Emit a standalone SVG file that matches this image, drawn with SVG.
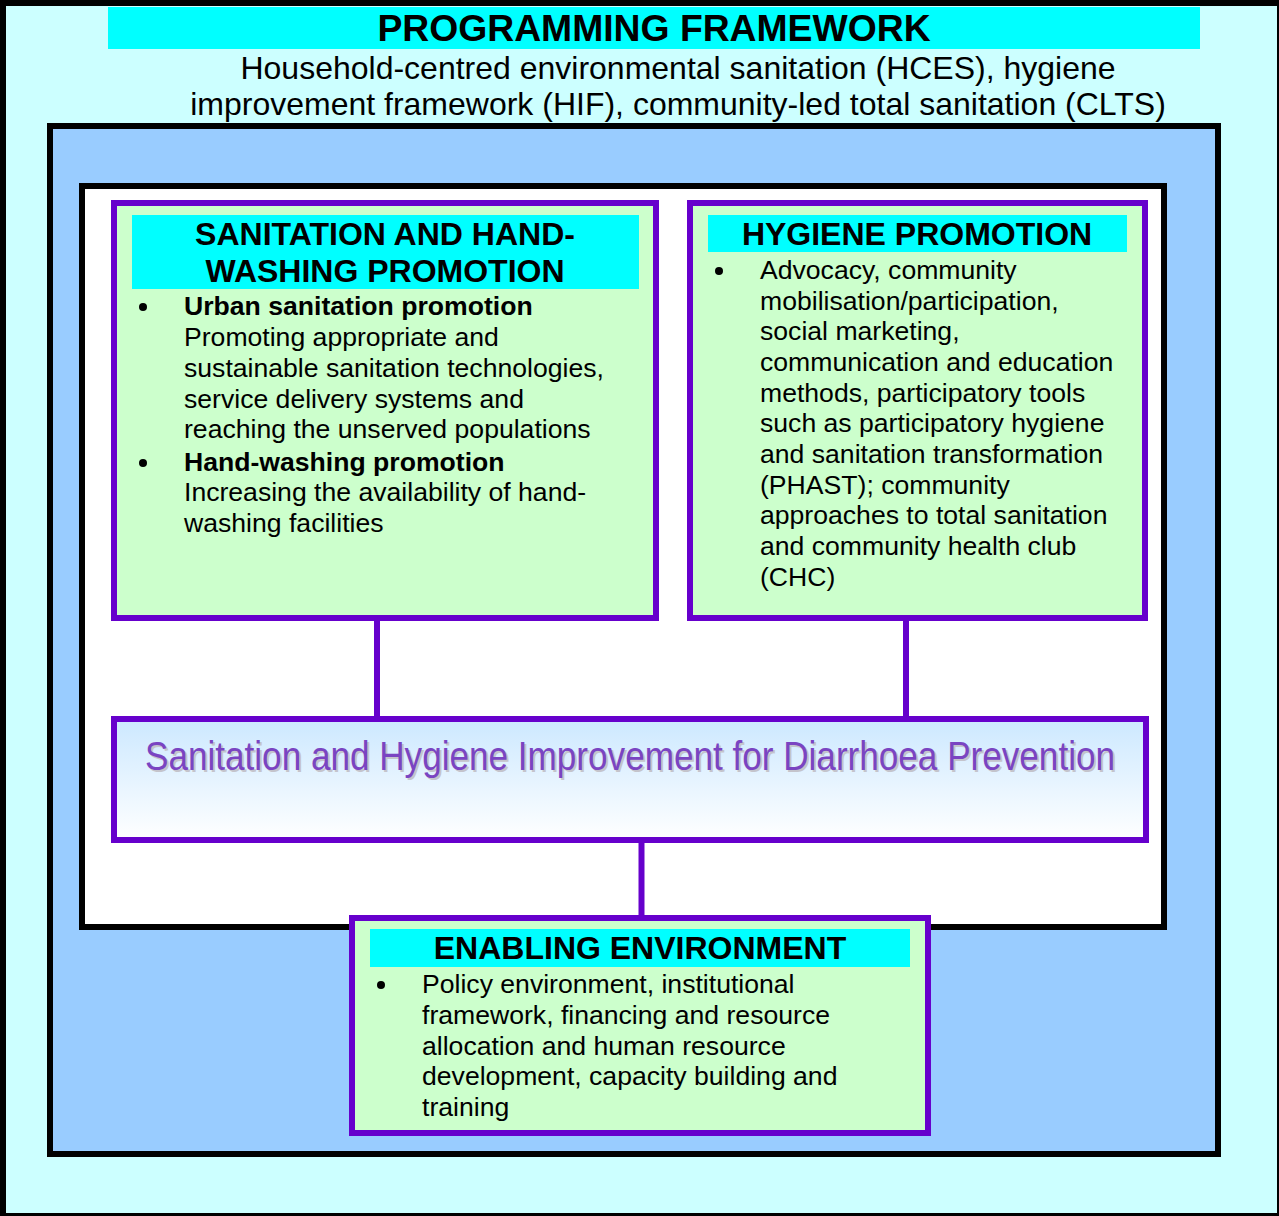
<svg xmlns="http://www.w3.org/2000/svg" width="1279" height="1216" viewBox="0 0 1279 1216">
<defs>
<linearGradient id="bannerGrad" x1="0" y1="0" x2="0" y2="1">
<stop offset="0" stop-color="#CCE8FF"/>
<stop offset="1" stop-color="#FFFFFF"/>
</linearGradient>
<style>
.frame{stroke:#000;stroke-width:6}
.box{fill:#CCFFCC;stroke:#6600CC;stroke-width:6}
.hdr{fill:#00FFFF}
.t{font-family:"Liberation Sans",Arial,sans-serif;fill:#000}
.h{font-family:"Liberation Sans",Arial,sans-serif;font-weight:bold;font-size:32px;fill:#000;text-anchor:middle}
.b{font-size:26.6px}
.bb{font-size:26.6px;font-weight:bold}
.sub{font-size:32px;text-anchor:middle}
.conn{stroke:#6600CC;stroke-width:6;fill:none}
.ban{font-family:"Liberation Sans Narrow","Arial Narrow","Liberation Sans",sans-serif;font-stretch:condensed;font-size:40px}
</style>
</defs>
<rect x="0" y="0" width="1279" height="1216" fill="#000"/>
<rect x="6" y="6" width="1271" height="1207" fill="#CCFFFF"/>
<rect x="108" y="7" width="1092" height="42" class="hdr"/>
<text class="h" x="654" y="41" style="font-size:37.3px">PROGRAMMING FRAMEWORK</text>
<text class="t sub" x="678" y="79">Household-centred environmental sanitation (HCES), hygiene</text>
<text class="t sub" x="678" y="115">improvement framework (HIF), community-led total sanitation (CLTS)</text>
<rect x="50" y="126" width="1168" height="1028" fill="#99CCFF" class="frame"/>
<rect x="82" y="186" width="1082" height="741" fill="#FFFFFF" class="frame"/>
<g id="connectors">
<line class="conn" x1="377" y1="618" x2="377" y2="719"/>
<line class="conn" x1="906" y1="618" x2="906" y2="719"/>
<line class="conn" x1="641.5" y1="840" x2="641.5" y2="918"/>
</g>
<g id="sanitation-handwashing">
<rect class="box" x="114" y="203" width="542" height="415"/>
<rect class="hdr" x="132" y="215" width="507" height="74"/>
<text class="h" x="385" y="245">SANITATION AND HAND-</text>
<text class="h" x="385" y="282">WASHING PROMOTION</text>
<circle cx="143" cy="307" r="4"/>
<text class="t bb" x="184" y="315">Urban sanitation promotion</text>
<text class="t b" x="184" y="346">Promoting appropriate and</text>
<text class="t b" x="184" y="377">sustainable sanitation technologies,</text>
<text class="t b" x="184" y="408">service delivery systems and</text>
<text class="t b" x="184" y="438">reaching the unserved populations</text>
<circle cx="143" cy="463" r="4"/>
<text class="t bb" x="184" y="471">Hand-washing promotion</text>
<text class="t b" x="184" y="501">Increasing the availability of hand-</text>
<text class="t b" x="184" y="532">washing facilities</text>
</g>
<g id="hygiene-promotion">
<rect class="box" x="690" y="203" width="455" height="415"/>
<rect class="hdr" x="708" y="215" width="419" height="37"/>
<text class="h" x="917" y="245">HYGIENE PROMOTION</text>
<circle cx="719" cy="271" r="4"/>
<text class="t b" x="760" y="279">Advocacy, community</text>
<text class="t b" x="760" y="310">mobilisation/participation,</text>
<text class="t b" x="760" y="340">social marketing,</text>
<text class="t b" x="760" y="371">communication and education</text>
<text class="t b" x="760" y="402">methods, participatory tools</text>
<text class="t b" x="760" y="432">such as participatory hygiene</text>
<text class="t b" x="760" y="463">and sanitation transformation</text>
<text class="t b" x="760" y="494">(PHAST); community</text>
<text class="t b" x="760" y="524">approaches to total sanitation</text>
<text class="t b" x="760" y="555">and community health club</text>
<text class="t b" x="760" y="586">(CHC)</text>
</g>
<g id="central-goal">
<rect x="114" y="719" width="1032" height="121" fill="url(#bannerGrad)" stroke="#6600CC" stroke-width="6"/>
<text class="ban" x="147" y="772" fill="#C4C4CC" textLength="970" lengthAdjust="spacingAndGlyphs">Sanitation and Hygiene Improvement for Diarrhoea Prevention</text>
<text class="ban" x="145" y="770" fill="#7A44C2" textLength="970" lengthAdjust="spacingAndGlyphs">Sanitation and Hygiene Improvement for Diarrhoea Prevention</text>
</g>
<g id="enabling-environment">
<rect class="box" x="352" y="918" width="576" height="215"/>
<rect class="hdr" x="370" y="929" width="540" height="38"/>
<text class="h" x="640" y="959">ENABLING ENVIRONMENT</text>
<circle cx="381" cy="985" r="4"/>
<text class="t b" x="422" y="993">Policy environment, institutional</text>
<text class="t b" x="422" y="1024">framework, financing and resource</text>
<text class="t b" x="422" y="1055">allocation and human resource</text>
<text class="t b" x="422" y="1085">development, capacity building and</text>
<text class="t b" x="422" y="1116">training</text>
</g>
</svg>
